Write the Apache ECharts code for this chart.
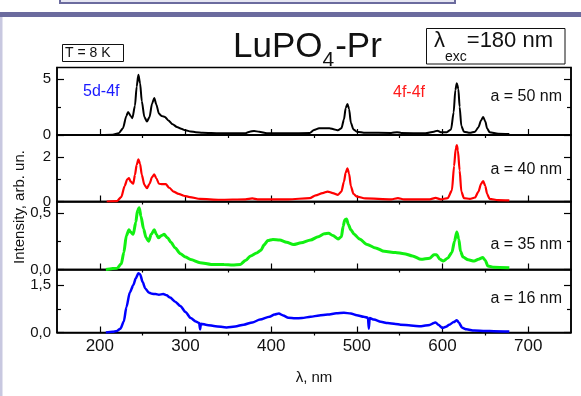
<!DOCTYPE html>
<html>
<head>
<meta charset="utf-8">
<script src="https://cdn.jsdelivr.net/npm/echarts@6/dist/echarts.min.js"></script>
<style>
html, body { margin: 0; padding: 0; background: #fff; }
#chart { width: 581px; height: 396px; }
</style>
</head>
<body>
<div id="chart"></div>
<script>
// spectra: [wavelength nm, intensity arb. un.]
const spec50 = [[200,0],[215,0.02],[222,0.15],[227,0.6],[231,1.7],[233,2.05],[236,1.7],[238,1.5],[241,2.6],[243,4.3],[245,5.35],[247,4.6],[249,3.0],[252,1.6],[255,1.2],[258,1.6],[261,2.8],[263.5,3.3],[266,2.7],[269,1.9],[272,1.7],[276,1.6],[280,1.3],[285,0.95],[290,0.72],[295,0.55],[300,0.42],[306,0.32],[312,0.25],[320,0.2],[340,0.15],[370,0.15],[375,0.3],[380,0.36],[386,0.28],[395,0.16],[420,0.15],[445,0.18],[450,0.45],[456,0.6],[462,0.6],[468,0.6],[474,0.5],[478,0.42],[482,0.6],[485,1.4],[487,2.4],[489,2.75],[491,2.3],[493,1.1],[496,0.5],[500,0.3],[510,0.2],[540,0.18],[547,0.25],[552,0.18],[580,0.15],[590,0.3],[594,0.38],[598,0.25],[605,0.25],[610,0.5],[613,2.0],[615,4.0],[616.7,4.6],[618.5,4.1],[620,2.5],[622,0.8],[625,0.3],[632,0.2],[638,0.3],[642,0.7],[645,1.3],[647.5,1.6],[650,1.2],[652,0.6],[655,0.25],[665,0.12],[678,0.1]];
const spec40 = [[208,0],[220,0.02],[225,0.2],[229,0.7],[232,1.0],[234,1.06],[236,0.9],[239,0.8],[241,1.2],[243,1.65],[245,1.9],[247,1.7],[249,1.2],[252,0.75],[255,0.6],[258,0.8],[261,1.1],[263.5,1.22],[266,1.05],[269,0.8],[273,0.78],[277,0.78],[281,0.62],[286,0.45],[292,0.34],[298,0.26],[305,0.2],[317,0.12],[340,0.08],[370,0.1],[378,0.14],[384,0.1],[420,0.1],[445,0.15],[452,0.28],[460,0.38],[466,0.45],[472,0.38],[478,0.3],[482,0.45],[485,0.9],[487,1.3],[489,1.5],[491,1.25],[493,0.7],[496,0.35],[500,0.22],[510,0.14],[540,0.1],[548,0.15],[555,0.1],[585,0.1],[592,0.16],[598,0.1],[606,0.15],[611,0.5],[613.5,1.6],[615.5,2.4],[616.7,2.55],[618,2.3],[620,1.4],[622,0.45],[625,0.15],[632,0.12],[638,0.18],[642,0.45],[645,0.8],[647.5,0.92],[650,0.7],[652,0.35],[655,0.12],[665,0.06],[678,0.05]];
const spec35 = [[207,0],[220,0.01],[225,0.05],[228,0.15],[231,0.3],[234,0.35],[236,0.33],[239,0.31],[242,0.42],[244,0.52],[246,0.545],[248,0.47],[251,0.36],[254,0.28],[257,0.25],[260,0.31],[263.5,0.35],[266,0.31],[268.5,0.28],[272,0.3],[275,0.31],[279,0.28],[283,0.24],[288,0.19],[294,0.14],[300,0.11],[306,0.088],[317,0.06],[330,0.045],[345,0.044],[355,0.04],[364,0.045],[370,0.08],[376,0.12],[383,0.145],[388,0.17],[392,0.22],[396,0.255],[402,0.265],[410,0.26],[418,0.24],[426,0.22],[435,0.235],[446,0.26],[455,0.29],[462,0.315],[467,0.32],[472,0.3],[478,0.27],[482,0.29],[484,0.38],[486,0.44],[488,0.445],[490,0.4],[493,0.35],[497,0.31],[503,0.27],[512,0.22],[522,0.19],[532,0.16],[545,0.15],[555,0.14],[565,0.12],[575,0.09],[585,0.1],[590,0.13],[593,0.13],[597,0.09],[601,0.075],[606,0.1],[611,0.15],[614,0.25],[616.7,0.33],[619,0.27],[621,0.16],[624,0.11],[630,0.085],[637,0.075],[642,0.09],[647,0.105],[650,0.08],[653,0.03],[660,0.02],[678,0.015]];
const spec16 = [[207,0],[215,0.02],[220,0.05],[224,0.12],[228,0.35],[231,0.8],[235,1.27],[239,1.5],[242,1.72],[245,1.88],[247,1.85],[250,1.6],[253,1.4],[257,1.27],[261,1.23],[265,1.22],[269,1.2],[274,1.22],[278,1.18],[282,1.11],[288,0.98],[294,0.84],[300,0.65],[306,0.46],[312,0.35],[316,0.3],[317,0.1],[318,0.28],[325,0.24],[335,0.2],[348,0.16],[358,0.19],[368,0.25],[378,0.32],[387,0.41],[398,0.5],[404,0.57],[409,0.6],[414,0.54],[420,0.47],[428,0.45],[436,0.46],[446,0.5],[456,0.54],[466,0.57],[476,0.61],[485,0.63],[493,0.6],[500,0.55],[508,0.5],[513,0.47],[514,0.12],[515,0.46],[520,0.41],[528,0.34],[536,0.3],[545,0.27],[551,0.25],[563,0.22],[575,0.2],[585,0.24],[590,0.3],[592,0.32],[595,0.25],[600,0.14],[604,0.18],[608,0.25],[613,0.33],[616.7,0.39],[619,0.32],[623,0.15],[628,0.1],[637,0.065],[650,0.05],[660,0.04],[678,0.03]];

// axes
const xMajor = [200, 300, 400, 500, 600, 700];
const xMinor = [250, 350, 450, 550, 650];
const yMax = [6, 3, 0.6, 2];
const yMajor = [[0, 5], [0, 2], [0, 0.5], [0, 1.5]];
const yMinor = [[2.5], [1], [0.25], [0.75]];
const yDecimals = [0, 0, 1, 1];
const sizes = ['a = 50 nm', 'a = 40 nm', 'a = 35 nm', 'a = 16 nm'];
const colors = ['#000000', '#ff0000', '#11f011', '#0000ff'];
const spectra = [spec50, spec40, spec35, spec16];

const FONT = '"Liberation Sans", Arial, sans-serif';
const gridTop = [67.5, 135, 201.5, 269.5];
const gridH = [67.5, 66.5, 68, 63];
const lineW = [2, 2.2, 3, 2.5];

let grids = [], xAxes = [], yAxes = [], series = [];
for (let i = 0; i < 4; i++) {
    grids.push({
        left: 57, width: 514, top: gridTop[i], height: gridH[i],
        show: true, borderColor: '#000', borderWidth: 1.5,
        containLabel: false, outerBoundsMode: 'none'
    });
    let last = i == 3;
    // major x ticks (+ labels on the bottom panel)
    xAxes.push({
        gridIndex: i, type: 'value', min: 150, max: 750,
        axisLine: { show: true, lineStyle: { color: '#000', width: 1.5 } },
        axisTick: { show: true, inside: true, length: 6, customValues: xMajor, lineStyle: { color: '#000', width: 1.2 } },
        axisLabel: { show: last, customValues: xMajor, margin: 5, fontSize: 17, color: '#111', fontFamily: FONT },
        splitLine: { show: false },
        name: last ? 'λ, nm' : '', nameLocation: 'middle', nameGap: 38,
        nameTextStyle: { fontSize: 15, color: '#111', fontFamily: FONT }
    });
    xAxes.push({
        gridIndex: i, type: 'value', min: 150, max: 750,
        axisLine: { show: false },
        axisTick: { show: true, inside: true, length: 3, customValues: xMinor, lineStyle: { color: '#000', width: 1.2 } },
        axisLabel: { show: false },
        splitLine: { show: false }
    });
    let dec = yDecimals[i];
    for (let side of ['left', 'right']) {
        yAxes.push({
            gridIndex: i, type: 'value', position: side, min: 0, max: yMax[i],
            axisLine: { show: true, lineStyle: { color: '#000', width: 1.5 } },
            axisTick: { show: true, inside: true, length: 7, customValues: yMajor[i], lineStyle: { color: '#000', width: 1.2 } },
            axisLabel: {
                show: side == 'left', customValues: yMajor[i], margin: 6,
                fontSize: 15, color: '#111', fontFamily: FONT,
                formatter: v => v.toFixed(dec).replace('.', ',')
            },
            splitLine: { show: false }
        });
        yAxes.push({
            gridIndex: i, type: 'value', position: side, min: 0, max: yMax[i],
            axisLine: { show: false },
            axisTick: { show: true, inside: true, length: 4, customValues: yMinor[i], lineStyle: { color: '#000', width: 1.2 } },
            axisLabel: { show: false },
            splitLine: { show: false }
        });
    }
    series.push({
        type: 'line', xAxisIndex: 2 * i, yAxisIndex: 4 * i,
        data: spectra[i], showSymbol: false, symbol: 'none',
        smooth: 0.25, smoothMonotone: 'x',
        lineStyle: { color: colors[i], width: lineW[i] },
        z: 1
    });
}

// text widths for the pieced title
const ctx = document.createElement('canvas').getContext('2d');
function tw(str, font) { ctx.font = font; return ctx.measureText(str).width; }

function txt(x, y, s, size, color, align, extra) {
    return Object.assign({
        type: 'text', x: x, y: y, z: 100,
        style: { text: s, font: size + 'px ' + FONT, fill: color || '#111', textAlign: align || 'left', textVerticalAlign: 'middle' }
    }, extra || {});
}

const bigF = '35px ' + FONT, subF = '21px ' + FONT;
let t1 = 233, t2 = t1 + tw('LuPO', bigF), t3 = t2 + tw('4', subF) + 1;
const lamF = '22px ' + FONT, excF = '14px ' + FONT;
let l1 = 434, l2 = l1 + tw('λ', lamF), l3 = l2 + tw('exc', excF);

let graphics = [
    // slide decoration
    { type: 'rect', shape: { x: 60, y: -6, width: 395, height: 9 }, style: { fill: '#e6e6f2', stroke: '#6b6b9e', lineWidth: 2 } },
    { type: 'rect', shape: { x: 0, y: 12, width: 581, height: 5 }, style: { fill: '#6b6b9e' } },
    { type: 'rect', shape: { x: 0, y: 17, width: 2.5, height: 379 }, style: { fill: '#c8c8e0' } },
    // title
    txt(t1, 47, 'LuPO', 35, '#111'),
    txt(t2, 60, '4', 21, '#111'),
    txt(t3, 47, '-Pr', 35, '#111'),
    // excitation box
    { type: 'rect', shape: { x: 426.5, y: 28.5, width: 138.5, height: 35.5 }, style: { fill: '#fff', stroke: '#111', lineWidth: 1 } },
    txt(l1, 41, 'λ', 22, '#111'),
    txt(l2, 57, 'exc', 14, '#111'),
    txt(l3, 41, '=180 nm', 22, '#111'),
    // temperature box
    { type: 'rect', shape: { x: 62.5, y: 44.5, width: 61, height: 17 }, style: { fill: '#fff', stroke: '#111', lineWidth: 1 } },
    txt(65, 53, 'T = 8 K', 14, '#111'),
    // axis name
    txt(20, 207, 'Intensity, arb. un.', 15, '#111', 'center', { rotation: Math.PI / 2 }),
    // transition labels
    txt(83, 92, '5d-4f', 16, '#1a1aff'),
    txt(393, 93, '4f-4f', 16, '#ff1a1a')
];
const noteY = [97, 170, 245, 298.5];
for (let i = 0; i < 4; i++) graphics.push(txt(562, noteY[i], sizes[i], 16, '#111', 'right'));

const chart = echarts.init(document.getElementById('chart'));
chart.setOption({
    animation: false,
    backgroundColor: '#fff',
    grid: grids,
    xAxis: xAxes,
    yAxis: yAxes,
    series: series,
    graphic: graphics
});
</script>
</body>
</html>
